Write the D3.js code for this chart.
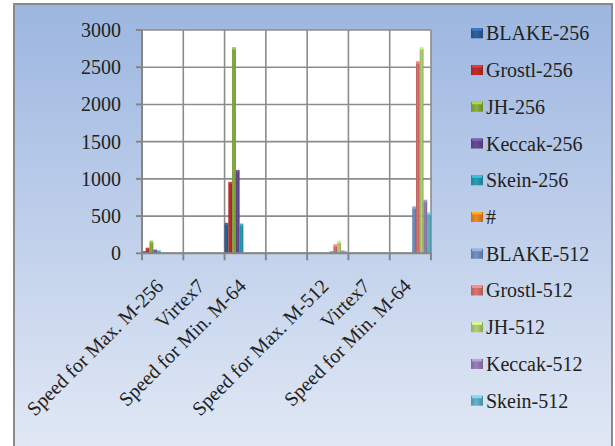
<!DOCTYPE html>
<html><head><meta charset="utf-8">
<script src="https://cdn.jsdelivr.net/npm/d3@7"></script>
<style>html,body{margin:0;padding:0;background:#fff;overflow:hidden}</style>
</head><body>
<svg id="c" width="615" height="446"></svg>
<script>
const categories = ["Speed for Max. M-256","Virtex7","Speed for Min. M-64","","Speed for Max. M-512","Virtex7","Speed for Min. M-64"];
const seriesNames = ["BLAKE-256","Grostl-256","JH-256","Keccak-256","Skein-256","#","BLAKE-512","Grostl-512","JH-512","Keccak-512","Skein-512"];
const seriesColors = ["#2b5b93","#b52b27","#7fa436","#60478a","#2793a8","#e0801f","#6c88b3","#cc6b68","#a8c26c","#8d78ad","#5aa7ba"];
const blake256  = [10, null, 390, null, null, null, null];
const grostl256 = [55, null, 940, null, null, null, null];
const jh256     = [150, null, 2750, null, null, null, null];
const keccak256 = [30, null, 1100, null, null, null, null];
const skein256  = [18, null, 380, null, null, null, null];
const hashSeries= [null, null, null, null, null, null, null];
const blake512  = [null, null, null, null, 10, null, 610];
const grostl512 = [null, null, null, null, 100, null, 2560];
const jh512     = [null, null, null, null, 150, null, 2750];
const keccak512 = [null, null, null, null, 20, null, 700];
const skein512  = [null, null, null, null, 10, null, 530];
const seriesValues = [blake256,grostl256,jh256,keccak256,skein256,hashSeries,blake512,grostl512,jh512,keccak512,skein512];
const yTicks = [0,500,1000,1500,2000,2500,3000];

const svg = d3.select("#c");
const defs = svg.append("defs");
const bg = defs.append("linearGradient").attr("id","bg").attr("x1",0).attr("y1",0).attr("x2",0).attr("y2",1);
bg.append("stop").attr("offset","0%").attr("stop-color","#9cb6e0");
bg.append("stop").attr("offset","100%").attr("stop-color","#e2e9f5");

svg.append("rect").attr("x",14).attr("y",4).attr("width",598).attr("height",450)
  .attr("fill","url(#bg)").attr("stroke","#8a8a8a").attr("stroke-width",2);

const L=142, R=431, T=30, B=253.3;
const x = d3.scaleBand().domain(d3.range(categories.length)).range([L,R]).padding(0);
const xs = d3.scaleBand().domain(d3.range(seriesNames.length)).range([0,x.bandwidth()]).padding(0);
const y = d3.scaleLinear().domain([0,3000]).range([B,T]);

svg.append("rect").attr("x",L).attr("y",T).attr("width",R-L).attr("height",B-T).attr("fill","#fff");

// gridlines
const grid = svg.append("g").attr("stroke","#8c8c8c").attr("stroke-width",1.6);
yTicks.forEach(t=>grid.append("line").attr("x1",L).attr("x2",R).attr("y1",y(t)).attr("y2",y(t)));
d3.range(categories.length+1).forEach(i=>{
  const xx = i<categories.length ? x(i) : R;
  grid.append("line").attr("x1",xx).attr("x2",xx).attr("y1",T).attr("y2",B);
});

// gradients for bars
seriesColors.forEach((c,i)=>{
  const g = defs.append("linearGradient").attr("id","g"+i).attr("x1",0).attr("x2",1).attr("y1",0).attr("y2",0);
  g.append("stop").attr("offset","0%").attr("stop-color",d3.color(c).darker(0.3));
  g.append("stop").attr("offset","45%").attr("stop-color",d3.color(c).brighter(0.2));
  g.append("stop").attr("offset","100%").attr("stop-color",d3.color(c).darker(0.5));
});

// bars
const bars = svg.append("g");
seriesValues.forEach((vals,si)=>{
  vals.forEach((v,ci)=>{
    if(v==null) return;
    const bx = x(ci)+xs(si), bw = xs.bandwidth();
    bars.append("rect").attr("x",bx).attr("y",y(v)).attr("width",bw).attr("height",B-y(v))
      .attr("fill","url(#g"+si+")");
    bars.append("rect").attr("x",bx).attr("y",y(v)-1.5).attr("width",bw).attr("height",2.5)
      .attr("fill",d3.color(seriesColors[si]).brighter(0.6));
  });
});

// axes
const ax = svg.append("g").attr("stroke","#868686").attr("stroke-width",2);
ax.append("line").attr("x1",L).attr("x2",L).attr("y1",T).attr("y2",B+1);
ax.append("line").attr("x1",L-1).attr("x2",R+1).attr("y1",B).attr("y2",B);
yTicks.forEach(t=>ax.append("line").attr("x1",L-6).attr("x2",L).attr("y1",y(t)).attr("y2",y(t)));
d3.range(categories.length+1).forEach(i=>{
  const xx = i<categories.length ? x(i) : R;
  ax.append("line").attr("x1",xx).attr("x2",xx).attr("y1",B).attr("y2",B+7);
});

const font = "'Liberation Serif','Times New Roman',serif";
svg.append("g").selectAll("text").data(yTicks).join("text")
  .attr("x",121).attr("y",d=>y(d)).attr("dy","0.35em").attr("text-anchor","end")
  .attr("font-family",font).attr("font-size",20).attr("fill","#222").text(d=>d);

svg.append("g").selectAll("text").data(categories).join("text")
  .attr("transform",(d,i)=>`translate(${x(i)+x.bandwidth()/2+2},${B+34}) rotate(-45)`)
  .attr("text-anchor","end").attr("font-family",font).attr("font-size",20).attr("fill","#222").text(d=>d);

// legend
const lg = svg.append("g");
seriesNames.forEach((n,i)=>{
  const cy = 33.3 + i*36.74;
  lg.append("rect").attr("x",471).attr("y",cy-5).attr("width",12).attr("height",10).attr("fill","url(#g"+i+")");
  lg.append("rect").attr("x",472).attr("y",cy-5).attr("width",10).attr("height",2.5).attr("fill",d3.color(seriesColors[i]).brighter(0.8));
  lg.append("text").attr("x",486).attr("y",cy).attr("dy","0.35em").attr("font-family",font).attr("font-size",20)
    .attr("fill","#222").text(n);
});
</script>
</body></html>
